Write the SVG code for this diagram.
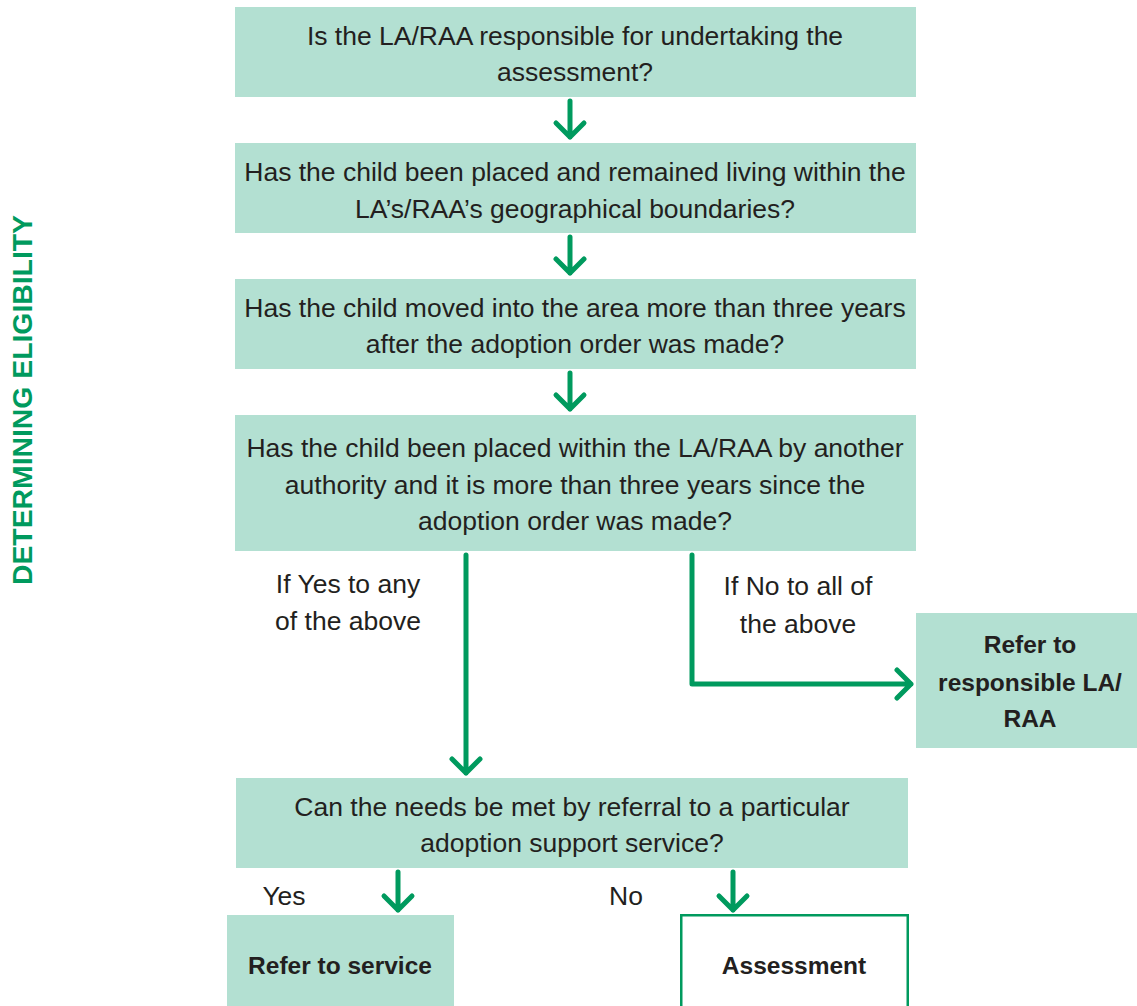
<svg xmlns="http://www.w3.org/2000/svg" width="1137" height="1006" viewBox="0 0 1137 1006">
<style>
.box{fill:#b3e0d2}
.out{fill:#ffffff;stroke:#009a5e;stroke-width:2.5}
.t{font-family:"Liberation Sans",Arial,sans-serif;font-size:26.5px;fill:#231f20;text-anchor:middle}
.b{font-weight:bold;font-size:24.5px}
.ln{fill:none;stroke:#009a5e;stroke-width:5;stroke-linecap:round;stroke-linejoin:round}
.side{font-family:"Liberation Sans",Arial,sans-serif;font-size:28px;font-weight:bold;fill:#009a5e;text-anchor:middle}
</style>
<rect width="1137" height="1006" fill="#ffffff"/>
<text class="side" transform="translate(32,400) rotate(-90)" textLength="370" lengthAdjust="spacingAndGlyphs">DETERMINING ELIGIBILITY</text>
<g id="n1"><rect class="box" x="235" y="7" width="681" height="90"/>
<text class="t" x="575" y="45">Is the LA/RAA responsible for undertaking the</text>
<text class="t" x="575" y="81">assessment?</text></g>
<g id="n2"><rect class="box" x="235" y="143" width="681" height="90"/>
<text class="t" x="575" y="181">Has the child been placed and remained living within the</text>
<text class="t" x="575" y="218">LA’s/RAA’s geographical boundaries?</text></g>
<g id="n3"><rect class="box" x="235" y="279" width="681" height="90"/>
<text class="t" x="575" y="317">Has the child moved into the area more than three years</text>
<text class="t" x="575" y="353">after the adoption order was made?</text></g>
<g id="n4"><rect class="box" x="235" y="415" width="681" height="136"/>
<text class="t" x="575" y="457">Has the child been placed within the LA/RAA by another</text>
<text class="t" x="575" y="494">authority and it is more than three years since the</text>
<text class="t" x="575" y="530">adoption order was made?</text></g>
<g id="n5"><rect class="box" x="916" y="613" width="221" height="135"/>
<text class="t b" x="1030" y="653">Refer to</text>
<text class="t b" x="1030" y="691">responsible LA/</text>
<text class="t b" x="1030" y="727">RAA</text></g>
<g id="n6"><rect class="box" x="236" y="778" width="672" height="90"/>
<text class="t" x="572" y="816">Can the needs be met by referral to a particular</text>
<text class="t" x="572" y="852">adoption support service?</text></g>
<g id="n7"><rect class="box" x="227" y="915" width="227" height="91"/>
<text class="t b" x="340" y="974">Refer to service</text></g>
<g id="n8"><rect class="out" x="681.25" y="915.25" width="226.5" height="92"/>
<text class="t b" x="794" y="974">Assessment</text></g>
<g id="labels">
<text class="t" x="348" y="593">If Yes to any</text>
<text class="t" x="348" y="630">of the above</text>
<text class="t" x="798" y="595">If No to all of</text>
<text class="t" x="798" y="633">the above</text>
<text class="t" x="284" y="905">Yes</text>
<text class="t" x="626" y="905">No</text>
</g>
<g id="connectors">
<path class="ln" d="M570 101V137M556 123L570 137L584 123"/>
<path class="ln" d="M570 237V273M556 259L570 273L584 259"/>
<path class="ln" d="M570 373V409M556 395L570 409L584 395"/>
<path class="ln" d="M466 555V773M452 759L466 773L480 759"/>
<path class="ln" d="M692 555V684H911M897 670L911 684L897 698"/>
<path class="ln" d="M398 872V910M384 896L398 910L412 896"/>
<path class="ln" d="M733 872V910M719 896L733 910L747 896"/>
</g>
</svg>
